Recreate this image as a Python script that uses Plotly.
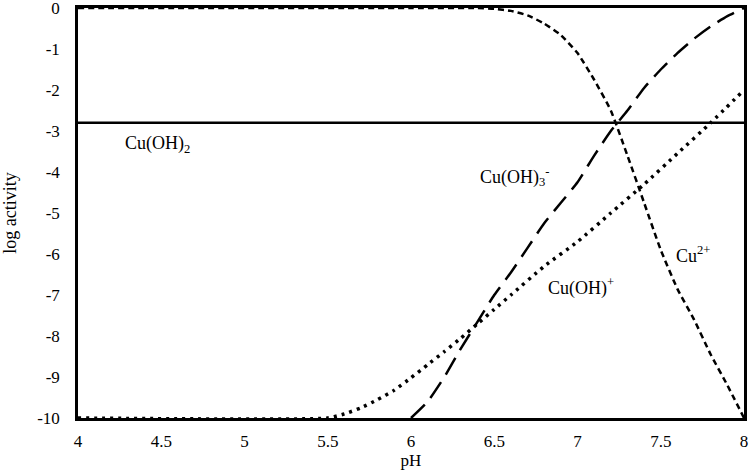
import plotly.graph_objects as go

# pH-Werte und log-Aktivitäten
ph_cu = [4.0, 6.0, 6.4, 6.5, 6.6, 6.7, 6.8, 6.9, 7.0, 7.1, 7.2, 7.3, 7.4, 7.5, 7.6, 7.7, 7.8, 7.9, 8.0]
log_cu = [0, 0, 0, -0.02, -0.07, -0.18, -0.38, -0.66, -1.1, -1.75, -2.5, -3.6, -4.75, -5.9,
          -6.85, -7.6, -8.45, -9.2, -10]

ph_cuoh3 = [6.0, 6.1, 6.2, 6.3, 6.4, 6.5, 6.6, 6.7, 6.8, 6.9, 7.0, 7.1, 7.2, 7.3, 7.4, 7.5, 7.6, 7.7, 7.8, 7.9, 8.0]
log_cuoh3 = [-10, -9.6, -9.0, -8.3, -7.65, -7.0, -6.45, -5.85, -5.25, -4.75, -4.25, -3.6, -3.0, -2.5,
             -1.95, -1.5, -1.1, -0.75, -0.45, -0.2, 0]

ph_cuoh = [4.0, 5.5, 5.6, 5.7, 5.8, 5.9, 6.0, 6.1, 6.2, 6.3, 6.4, 6.5, 6.6, 6.8, 7.0, 7.2, 7.4, 7.6, 7.8, 8.0]
log_cuoh = [-10, -10, -9.9, -9.75, -9.55, -9.32, -9.02, -8.7, -8.38, -8.05, -7.7, -7.35, -7.0, -6.3,
            -5.7, -5.0, -4.3, -3.55, -2.8, -2.0]

ph_cuoh2 = [4.0, 8.0]
log_cuoh2 = [-2.8, -2.8]

x_ticks = [4, 4.5, 5, 5.5, 6, 6.5, 7, 7.5, 8]
y_ticks = [0, -1, -2, -3, -4, -5, -6, -7, -8, -9, -10]

FONT = "Liberation Serif"

fig = go.Figure()

fig.add_trace(go.Scatter(x=ph_cuoh2, y=log_cuoh2, mode="lines",
                         line=dict(color="black", width=2.5)))
fig.add_trace(go.Scatter(x=ph_cu, y=log_cu, mode="lines",
                         line=dict(color="black", width=2.5, dash="6px,4px",
                                   shape="spline", smoothing=0.5)))
fig.add_trace(go.Scatter(x=ph_cuoh3, y=log_cuoh3, mode="lines",
                         line=dict(color="black", width=2.5, dash="19px,9px",
                                   shape="spline", smoothing=0.5)))
fig.add_trace(go.Scatter(x=ph_cuoh, y=log_cuoh, mode="lines",
                         line=dict(color="black", width=3.5, dash="3px,5px",
                                   shape="spline", smoothing=0.5)))

labels = [
    (4.48, -3.34, "Cu(OH)<sub>2</sub>"),
    (6.625, -4.12, "Cu(OH)<sub>3</sub><sup>-</sup>"),
    (7.695, -6.02, "Cu<sup>2+</sup>"),
    (7.02, -6.8, "Cu(OH)<sup>+</sup>"),
]
for x, y, t in labels:
    fig.add_annotation(x=x, y=y, text=t, showarrow=False,
                       font=dict(family=FONT, size=18, color="black"))

axis_common = dict(showline=True, linecolor="black", linewidth=2.5, mirror=True,
                   showgrid=False, zeroline=False, ticks="", automargin=False,
                   ticklabeloverflow="allow",
                   tickfont=dict(family=FONT, size=17, color="black"))

fig.update_layout(
    width=751, height=475,
    margin=dict(l=78, r=7, t=8, b=57),
    plot_bgcolor="white", paper_bgcolor="white",
    showlegend=False,
    xaxis=dict(range=[4, 8], tickvals=x_ticks, ticktext=[f"{v:g}" for v in x_ticks],
               ticklabelstandoff=6,
               title=dict(text="pH", font=dict(family=FONT, size=17, color="black"), standoff=2),
               **axis_common),
    yaxis=dict(range=[-10, 0], tickvals=y_ticks, ticktext=[f"{v:g}" for v in y_ticks],
               ticklabelstandoff=12,
               title=dict(text="log activity", font=dict(family=FONT, size=18, color="black"), standoff=18),
               **axis_common),
)

fig.write_html("out.html", config={"displayModeBar": False},
               post_script="document.body.style.margin='0';")
